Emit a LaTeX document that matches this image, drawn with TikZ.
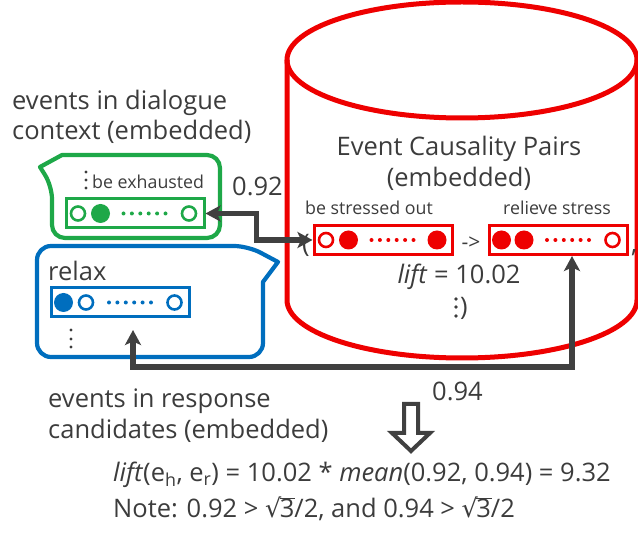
\documentclass[tikz,border=0pt]{standalone}
\usepackage{fontspec}
\setmainfont{Open Sans}
\newfontfamily\dejavu{DejaVu Sans}
\usetikzlibrary{arrows.meta}

\definecolor{ered}{RGB}{238,0,0}
\definecolor{egreen}{RGB}{30,168,72}
\definecolor{eblue}{RGB}{0,110,190}
\definecolor{agray}{RGB}{64,64,64}
\definecolor{tgray}{RGB}{60,60,60}

% square root of three, with its bar
\newcommand\rootthree{{\dejavu √}\kern-0.06em\rlap{\rule[0.74em]{0.6em}{0.06em}}3}

% one embedded event: three circles with a dotted run between them
\newcommand\evrow[5]{%
  \node[ev#3=#2] (#1-a) at ([xshift=13.5pt]#1.west) {};
  \node[ev#4=#2] (#1-b) at ([xshift=36pt]#1.west) {};
  \foreach \k in {0,...,5}{\fill[#2] ([xshift={59pt+8.4pt*\k}]#1.west) circle[radius=2pt];}
  \node[ev#5=#2] (#1-c) at ([xshift=124.5pt]#1.west) {};
}

\tikzset{
  evbox/.style={draw=#1, line width=3pt, minimum width=138pt, minimum height=29pt, inner sep=0pt},
  evo/.style={circle, draw=#1, fill=white, line width=2.6pt, minimum size=14pt, inner sep=0pt},
  evf/.style={circle, fill=#1, minimum size=19pt, inner sep=0pt},
  bubble/.style={line width=4.2pt, line join=round},
  link/.style={draw=agray, line width=5.2pt, {Stealth[length=15pt,width=16pt,inset=3.5pt]}-{Stealth[length=15pt,width=16pt,inset=3.5pt]}},
  big/.style={font=\fontsize{25.5pt}{31pt}\selectfont, text=tgray, inner sep=0pt},
  mid/.style={font=\fontsize{25.5pt}{31pt}\selectfont, text=tgray, inner sep=0pt},
  small/.style={font=\fontsize{17.8pt}{21pt}\selectfont, text=tgray, inner sep=0pt},
  vdots/.style={fill=tgray},
}

\begin{document}
\begin{tikzpicture}[x=1pt, y=-1pt]
\useasboundingbox (0,0) rectangle (638,534);

% the store of event causality pairs
\draw[ered, line width=5pt] (462,60) ellipse[x radius=175pt, y radius=58pt];
\draw[ered, line width=5pt] (287,60) -- (287,300)
  arc[start angle=180, end angle=360, x radius=175pt, y radius=58pt] -- (637,60);

\node[big] (ecp1) at (459,156) [anchor=base] {Event Causality Pairs};
\node[big] (ecp2) at (459,187) [anchor=base] {(embedded)};

% dialogue context bubble
\draw[egreen, bubble, rounded corners=13pt] (140,155) -- (220,155) -- (220,238) -- (52,238)
  -- (52,186) [sharp corners] -- (40,167) -- (62,155) [rounded corners=13pt] -- cycle;
% response candidate bubble
\draw[eblue, bubble, rounded corners=14pt] (150,246) -- (248,246) [sharp corners]
  -- (278,262) -- (263,282) -- (263,300) [rounded corners=14pt] -- (263,357) -- (37,357)
  -- (37,246) -- cycle;

\node[big, anchor=base west] (ctx1) at (12,110) {events in dialogue};
\node[big, anchor=base west] (ctx2) at (12,140) {context (embedded)};
\node[big, anchor=base west] (rsp1) at (48,408) {events in response};
\node[big, anchor=base west] (rsp2) at (48,439) {candidates (embedded)};

% event vectors
\node[evbox=egreen] (gbox) at (135,213.5) {};
\node[evbox=eblue] (bbox) at (120.5,302.5) {};
\node[evbox=ered] (rl) at (383,240) {};
\node[evbox=ered] (rr) at (558.5,240) {};
\evrow{gbox}{egreen}{o}{f}{o}
\evrow{bbox}{eblue}{f}{o}{o}
\evrow{rl}{ered}{o}{f}{f}
\evrow{rr}{ered}{f}{f}{o}

\node[small, anchor=base west] (gtxt) at (92,189) {be exhausted};
\foreach \yy in {172,180,188}{\fill[vdots] (86,\yy) circle[radius=1.7pt];}
\node[mid, anchor=base west] (btxt) at (48,281) {relax};
\foreach \yy in {330,339,347}{\fill[vdots] (71,\yy) circle[radius=1.7pt];}
\node[small, anchor=base] (ltxt) at (369,215) {be stressed out};
\node[small, anchor=base] (rtxt) at (557,215) {relieve stress};
\node[text=tgray, inner sep=0pt, font=\fontsize{21pt}{25pt}\selectfont] (to) at (471,243) {->};
\node[mid, anchor=base] (opn) at (306,253) {(};
\node[mid, anchor=base west] (cma) at (631,253) {,};
\node[mid, anchor=base] (lift) at (459,284) {\textit{lift} = 10.02};
\foreach \yy in {299,307,316}{\fill[vdots] (456,\yy) circle[radius=1.8pt];}
\node[mid, anchor=base west] (cls) at (460,316) {)};

% similarity links
\draw[link] (gbox.east) -- ++(51,0) |- (rl.west);
\coordinate (bin) at (133,330);
\coordinate (low) at (572,367);
\draw[link] (bin) -- (bin |- low) -- (low) -- (low |- rr.south);
\node[mid, anchor=base west] (s1) at (232,196) {0.92};
\node[mid, anchor=base west] (s2) at (432,401) {0.94};

% result arrow
\draw[agray, line width=4pt, fill=white, line join=miter]
  (404,404) -- (418,404) -- (418,433) -- (430,433) -- (411,451) -- (392,433) -- (404,433) -- cycle;

\node[mid, anchor=base west] (eq1) at (113,482)
  {\textit{lift}(e\textsubscript{h}, e\textsubscript{r}) = 10.02 * \textit{mean}(0.92, 0.94) = 9.32};
\node[mid, anchor=base west] (eq2) at (113,518)
  {Note: 0.92 > \rootthree/2, and 0.94 > \rootthree/2};
\end{tikzpicture}
\end{document}
